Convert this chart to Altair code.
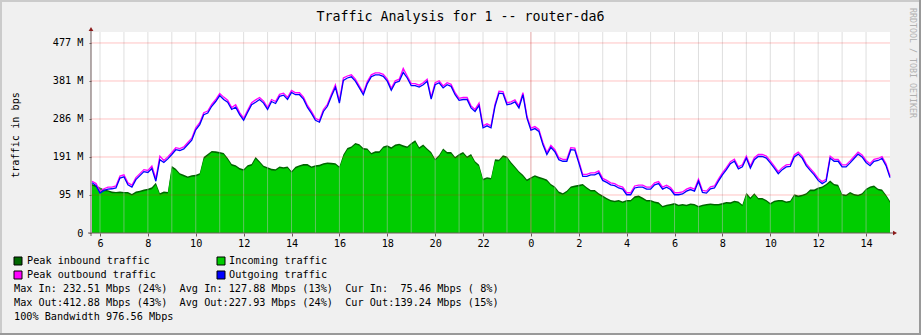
import altair as alt
import pandas as pd

# ---- data (Mbit/s, base-1024 "M" as in the graph), 10-minute samples ----
hours = [5 + 2 / 3 + i / 6 for i in range(201)]  # hours since start of first day

out_avg = [126, 119, 100, 107, 110, 111, 113, 138, 141, 121, 115, 134, 144, 154, 152, 162, 130, 184, 177, 186,
           197, 209, 207, 211, 222, 233, 259, 272, 297, 301, 318, 330, 345, 335, 328, 310, 316, 297, 283, 303,
           322, 328, 335, 326, 310, 330, 325, 343, 346, 335, 353, 347, 347, 336, 315, 300, 283, 278, 305, 318,
           343, 366, 326, 383, 389, 392, 381, 364, 347, 375, 392, 397, 397, 393, 381, 358, 377, 381, 403, 389,
           370, 370, 366, 372, 381, 336, 372, 377, 364, 372, 368, 347, 333, 335, 335, 314, 305, 320, 264, 269,
           264, 318, 351, 350, 322, 324, 329, 314, 347, 289, 258, 262, 255, 222, 197, 215, 204, 184, 180, 180,
           209, 208, 176, 142, 142, 146, 146, 151, 132, 127, 121, 119, 113, 110, 96, 96, 113, 115, 115, 110,
           110, 121, 124, 110, 115, 109, 96, 96, 98, 105, 109, 105, 130, 102, 100, 111, 113, 130, 146, 159,
           174, 180, 161, 166, 188, 163, 184, 192, 192, 188, 176, 163, 149, 159, 166, 167, 191, 198, 188, 169,
           157, 146, 132, 124, 130, 188, 180, 180, 166, 166, 176, 187, 198, 191, 177, 169, 180, 182, 187, 169, 139]

out_peak = [130, 124, 105, 111, 115, 115, 118, 143, 146, 126, 120, 139, 149, 159, 157, 168, 136, 193, 182, 191,
            202, 214, 212, 216, 227, 238, 264, 277, 302, 306, 323, 335, 350, 341, 333, 315, 322, 302, 288, 308,
            327, 334, 340, 331, 315, 335, 330, 348, 351, 340, 358, 352, 352, 341, 320, 305, 288, 283, 310, 323,
            348, 372, 331, 389, 394, 397, 386, 369, 352, 380, 397, 402, 402, 398, 386, 363, 382, 386, 413, 394,
            375, 375, 371, 377, 386, 341, 377, 382, 369, 377, 373, 352, 338, 340, 340, 319, 310, 326, 269, 274,
            269, 323, 356, 355, 327, 329, 334, 319, 352, 294, 263, 267, 260, 227, 202, 220, 209, 189, 185, 185,
            214, 213, 181, 147, 147, 151, 151, 156, 137, 132, 126, 124, 118, 115, 101, 101, 118, 120, 120, 115,
            115, 126, 129, 115, 120, 114, 101, 101, 103, 110, 114, 110, 135, 107, 105, 116, 118, 135, 151, 164,
            179, 185, 166, 171, 193, 168, 189, 197, 197, 193, 181, 168, 154, 164, 171, 172, 196, 203, 193, 174,
            162, 151, 137, 129, 135, 193, 185, 185, 171, 171, 181, 192, 203, 196, 182, 174, 185, 187, 192, 174, 143]

in_avg = [119, 115, 110, 105, 104, 100, 100, 100, 100, 99, 94, 100, 102, 105, 107, 110, 121, 96, 100, 99,
          163, 157, 146, 142, 138, 141, 142, 146, 186, 194, 202, 201, 199, 197, 184, 169, 166, 159, 156, 166,
          169, 186, 176, 165, 161, 157, 156, 163, 161, 163, 151, 162, 166, 169, 169, 163, 166, 167, 171, 173,
          172, 171, 163, 192, 209, 213, 222, 219, 209, 208, 197, 201, 201, 213, 216, 211, 218, 220, 216, 213,
          222, 228, 211, 218, 208, 199, 182, 192, 208, 199, 199, 187, 194, 199, 188, 194, 176, 167, 132, 136,
          134, 180, 180, 191, 188, 174, 163, 151, 142, 130, 136, 141, 137, 134, 130, 119, 113, 100, 96, 102,
          113, 115, 117, 119, 111, 104, 104, 96, 90, 84, 79, 77, 79, 75, 79, 79, 88, 90, 85, 79,
          79, 75, 73, 64, 67, 69, 71, 67, 69, 67, 70, 69, 64, 67, 69, 70, 69, 69, 71, 74,
          73, 77, 75, 67, 96, 85, 96, 84, 84, 79, 71, 77, 79, 79, 75, 77, 92, 90, 92, 96,
          105, 105, 110, 113, 119, 127, 119, 117, 94, 92, 99, 94, 92, 96, 107, 113, 115, 107, 105, 92, 76]

in_peak = [123, 119, 114, 109, 107, 104, 103, 104, 103, 103, 98, 104, 106, 109, 111, 115, 126, 100, 104, 103,
           168, 161, 150, 146, 142, 145, 146, 150, 191, 198, 206, 205, 203, 201, 188, 173, 170, 163, 160, 170,
           173, 191, 180, 169, 165, 161, 160, 167, 165, 167, 155, 166, 170, 173, 173, 167, 170, 171, 175, 177,
           176, 175, 167, 197, 213, 217, 226, 223, 213, 212, 201, 205, 205, 217, 220, 215, 222, 224, 220, 217,
           226, 233, 215, 222, 212, 203, 186, 196, 212, 203, 203, 191, 198, 203, 192, 198, 180, 171, 136, 140,
           138, 185, 184, 195, 192, 178, 167, 155, 146, 134, 140, 145, 141, 138, 134, 123, 117, 104, 100, 106,
           117, 119, 121, 123, 115, 108, 108, 100, 94, 88, 83, 81, 83, 79, 83, 83, 92, 94, 89, 83,
           83, 79, 77, 68, 71, 73, 75, 71, 73, 71, 74, 73, 68, 71, 73, 74, 73, 73, 75, 78,
           77, 81, 79, 71, 101, 89, 100, 88, 88, 83, 75, 81, 83, 83, 79, 81, 97, 94, 96, 100,
           109, 109, 114, 117, 123, 132, 123, 121, 98, 96, 103, 98, 96, 100, 111, 117, 119, 111, 109, 96, 80]

y_ticks = [0, 95.367, 190.735, 286.102, 381.470, 476.837]
x_label_hours = list(range(6, 39, 2))
grid_hours = list(range(6, 39))
major_hours = [24]

title_text = "Traffic Analysis for 1 -- router-da6"
y_title = "traffic in bps"
side_text = "RRDTOOL / TOBI OETIKER"
legend_rows = [
    ("Peak inbound traffic", "#006600", "Incoming traffic", "#00cc00"),
    ("Peak outbound traffic", "#ff00ff", "Outgoing traffic", "#0000ff"),
]
NB = "\u00a0"
stats_lines = [
    f"Max In: 232.51 Mbps (24%){NB}{NB}Avg In: 127.88 Mbps (13%){NB}{NB}Cur In: {NB}75.46 Mbps ({NB}8%)",
    f"Max Out:412.88 Mbps (43%){NB}{NB}Avg Out:227.93 Mbps (24%){NB}{NB}Cur Out:139.24 Mbps (15%)",
    "100% Bandwidth 976.56 Mbps",
]

FONT = "DejaVu Sans Mono"
W, H = 799, 201
XDOM = [5.624, 39.0]
YDOM = [0, 504.4]

df = pd.DataFrame({"hour": hours, "out_avg": out_avg, "out_peak": out_peak,
                   "in_avg": in_avg, "in_peak": in_peak})
one = pd.DataFrame({"k": [0]})

xs = alt.Scale(domain=XDOM, nice=False, zero=False)
ys = alt.Scale(domain=YDOM, nice=False)

x_axis = alt.Axis(values=x_label_hours, labelExpr="datum.value % 24", title=None, grid=False,
                  domain=False, ticks=True, tickSize=3, tickColor="#6e5a5a", labelFont=FONT,
                  labelFontSize=10.2, labelColor="#000000", labelPadding=2, labelFlush=False)
y_axis = alt.Axis(values=y_ticks,
                  labelExpr="datum.value == 0 ? '0' : format(datum.value, '.0f') + ' M'",
                  title=None, grid=False, domain=False, ticks=True, tickSize=2, tickColor="#6e5a5a",
                  labelFont=FONT, labelFontSize=10.2, labelColor="#000000", labelPadding=6)

base = alt.Chart(df)

peak_in = base.mark_area(color="#006600").encode(
    x=alt.X("hour:Q", scale=xs, axis=x_axis),
    y=alt.Y("in_peak:Q", scale=ys, axis=y_axis))
avg_in = base.mark_area(color="#00cc00").encode(x="hour:Q", y="in_avg:Q")
peak_out = base.mark_line(color="#ff00ff", strokeWidth=1.3).encode(x="hour:Q", y="out_peak:Q")
avg_out = base.mark_line(color="#0000ff", strokeWidth=1.3).encode(x="hour:Q", y="out_avg:Q")

vgrid = alt.Chart(pd.DataFrame({"h": grid_hours})).mark_rule(
    color="#c0c0c0", opacity=0.5, strokeWidth=1).encode(x="h:Q")
vmajor = alt.Chart(pd.DataFrame({"h": major_hours})).mark_rule(
    color="#ff0000", opacity=0.24, strokeWidth=1).encode(x="h:Q")
hgrid = alt.Chart(pd.DataFrame({"v": y_ticks[1:]})).mark_rule(
    color="#ff0000", opacity=0.24, strokeWidth=1).encode(y="v:Q")

ax_x = alt.Chart(one).mark_rule(color="#6e5a5a", strokeWidth=1).encode(
    x=alt.value(-3), x2=alt.value(803), y=alt.value(H))
ax_y = alt.Chart(one).mark_rule(color="#6e5a5a", strokeWidth=1).encode(
    x=alt.value(0), y=alt.value(-2), y2=alt.value(H + 3))
arrow_x = alt.Chart(one).mark_point(shape="triangle-right", filled=True, color="#8b1a1a",
                                    size=22, opacity=1).encode(x=alt.value(804), y=alt.value(H))
arrow_y = alt.Chart(one).mark_point(shape="triangle-up", filled=True, color="#8b1a1a",
                                    size=22, opacity=1).encode(x=alt.value(0), y=alt.value(-3))

title = alt.Chart(one).mark_text(font=FONT, fontSize=13.3, color="#000000",
                                 baseline="middle", align="center").encode(
    x=alt.value(369.5), y=alt.value(-15), text=alt.value(title_text))
ytitle = alt.Chart(one).mark_text(font=FONT, fontSize=10.2, color="#000000", angle=270,
                                  baseline="middle", align="center").encode(
    x=alt.value(-75), y=alt.value(103), text=alt.value(y_title))
side = alt.Chart(one).mark_text(font=FONT, fontSize=8.3, color="#b0b0b0", angle=90,
                                baseline="middle", align="center").encode(
    x=alt.value(821), y=alt.value(31), text=alt.value(side_text))

# frame shading
frame = [
    alt.Chart(one).mark_rule(color="#cbcbcb", strokeWidth=2).encode(
        x=alt.value(-91), x2=alt.value(830), y=alt.value(-31)),
    alt.Chart(one).mark_rule(color="#cbcbcb", strokeWidth=2).encode(
        x=alt.value(-90), y=alt.value(-32), y2=alt.value(303)),
    alt.Chart(one).mark_rule(color="#999999", strokeWidth=2).encode(
        x=alt.value(-91), x2=alt.value(830), y=alt.value(302)),
    alt.Chart(one).mark_rule(color="#999999", strokeWidth=2).encode(
        x=alt.value(829), y=alt.value(-32), y2=alt.value(303)),
]

legend_layers = []
row_y = [229, 243]
for (l1, c1, l2, c2), yy in zip(legend_rows, row_y):
    for lab, col, sx, tx in ((l1, c1, -77, -64), (l2, c2, 126, 138)):
        legend_layers.append(alt.Chart(one).mark_rect(fill=col, stroke="#000000", strokeWidth=1).encode(
            x=alt.value(sx), x2=alt.value(sx + 8), y=alt.value(yy - 4), y2=alt.value(yy + 4)))
        legend_layers.append(alt.Chart(one).mark_text(font=FONT, fontSize=10.2, color="#000000",
                                                      align="left", baseline="middle").encode(
            x=alt.value(tx), y=alt.value(yy), text=alt.value(lab)))
for line, yy in zip(stats_lines, [257, 271, 285]):
    legend_layers.append(alt.Chart(one).mark_text(font=FONT, fontSize=10.2, color="#000000",
                                                  align="left", baseline="middle").encode(
        x=alt.value(-77), y=alt.value(yy), text=alt.value(line)))

chart = alt.layer(
    peak_in, avg_in, vgrid, vmajor, hgrid, peak_out, avg_out,
    ax_x, ax_y, arrow_x, arrow_y, title, ytitle, side, *frame, *legend_layers
).properties(
    width=W, height=H,
    autosize=alt.AutoSizeParams(type="none"),
    padding={"left": 91, "top": 32, "right": 31, "bottom": 102},
    background="#f0f0f0",
).configure_view(fill="#ffffff", stroke=None)

chart.save("out.html", embed_options={"renderer": "svg", "actions": False})
